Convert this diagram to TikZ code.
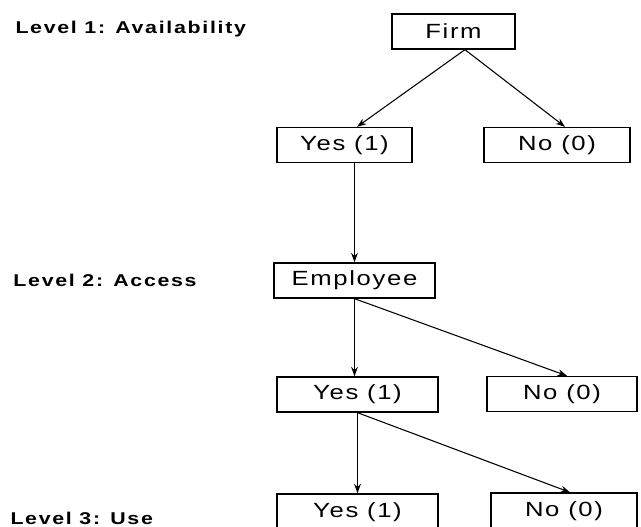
\documentclass[tikz,border=0pt]{standalone}
\usepackage{fontspec}
\setmainfont{Liberation Sans}
\usetikzlibrary{arrows.meta}

\tikzset{every picture/.style={line width=0.75pt}}
\tikzset{
  box/.style={draw, line width=1pt, inner sep=0pt, minimum height=35*0.75pt,
    font=\fontsize{15.4pt}{17pt}\selectfont\addfontfeature{FakeStretch=1.25,LetterSpace=8}},
  lvl/.style={anchor=west, inner sep=0pt,
    font=\fontsize{12.8pt}{15pt}\selectfont\bfseries\addfontfeature{FakeStretch=1.25,LetterSpace=10}},
  link/.style={-{Stealth[length=7pt,width=5pt]}, line width=0.8pt}
}

\begin{document}
\begin{tikzpicture}[x=0.75pt,y=0.75pt,yscale=-1,xscale=1]
\useasboundingbox (0,0) rectangle (641,527);

% Level labels
\node [lvl] (lvlone) at (15,29) {Level 1: Availability};
\node [lvl] (lvltwo) at (13,280) {Level 2: Access};
\node [lvl] (lvlthree) at (10,518) {Level 3: Use};

% Boxes, level 1
\node [box, minimum width=123*0.75pt] (firm) at (453.5,31.5) {Firm};
\node [box, minimum width=135*0.75pt] (yesone) at (344.5,145) {Yes (1)};
\node [box, minimum width=146*0.75pt] (noone) at (557,145) {No (0)};

% Boxes, level 2
\node [box, minimum width=161*0.75pt] (emp) at (354.5,280.5) {Employee};
\node [box, minimum width=161*0.75pt] (yestwo) at (357.5,394.5) {Yes (1)};
\node [box, minimum width=150*0.75pt] (notwo) at (562,394) {No (0)};

% Boxes, level 3
\node [box, minimum width=161*0.75pt, minimum height=36*0.75pt] (yesthree) at (357.5,512) {Yes (1)};
\node [box, minimum width=146*0.75pt, minimum height=36*0.75pt] (nothree) at (564,511) {No (0)};

% Connectors
\coordinate (firmout) at ([xshift=8.6pt]firm.south);
\draw [link] (firmout) -- ([xshift=9.4pt]yesone.north);
\draw [link] (firmout) -- ([xshift=6pt]noone.north);
\draw [link, line width=1.4pt] (emp.north |- yesone.south) -- (emp.north);
\draw [link, line width=1.4pt] (emp.south) -- (emp.south |- yestwo.north);
\draw [link] (emp.south) -- ([xshift=3.75pt]notwo.north);
\draw [link, line width=1.4pt] (yestwo.south) -- (yestwo.south |- yesthree.north);
\draw [link] (yestwo.south) -- ([xshift=4.5pt]nothree.north);
\end{tikzpicture}
\end{document}
